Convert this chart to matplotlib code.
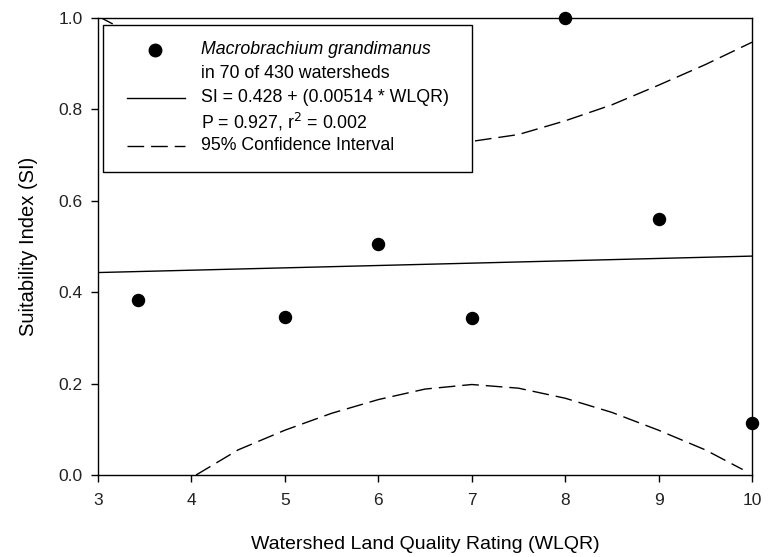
import matplotlib
matplotlib.use("Agg")
import matplotlib.pyplot as plt
from matplotlib.patches import Rectangle
from matplotlib.lines import Line2D

plt.rcParams['font.family'] = ['Liberation Sans', 'DejaVu Sans']

# data
wlqr = [3.43, 5.0, 6.0, 7.0, 8.0, 9.0, 10.0]
si = [0.383, 0.346, 0.505, 0.343, 1.0, 0.56, 0.114]

fit_x = [3.0, 10.0]
fit_y = [0.443, 0.479]

ci_low_x = [4.05, 4.5, 5.0, 5.5, 6.0, 6.5, 7.0, 7.5, 8.0, 8.5, 9.0, 9.5, 9.9]
ci_low_y = [0.0, 0.055, 0.098, 0.135, 0.165, 0.188, 0.198, 0.190, 0.168, 0.137, 0.098, 0.055, 0.012]
ci_up_x = [3.0, 3.5, 4.0, 4.5, 5.0, 5.5, 6.0, 6.5, 7.0, 7.5, 8.0, 8.5, 9.0, 9.5, 10.0]
ci_up_y = [1.004, 0.95, 0.905, 0.85, 0.81, 0.78, 0.755, 0.738, 0.73, 0.745, 0.775, 0.81, 0.853, 0.898, 0.947]

xticks = [3, 4, 5, 6, 7, 8, 9, 10]
yticks = [0.0, 0.2, 0.4, 0.6, 0.8, 1.0]

fig = plt.figure(figsize=(7.68, 5.57), dpi=100)
ax = fig.add_axes([98/768, 1-475/557, 654/768, 457/557])

ax.plot(fit_x, fit_y, color='black', lw=1.0, zorder=2)
ax.plot(ci_low_x, ci_low_y, color='black', lw=1.0, dashes=(12, 5), zorder=2)
ax.plot(ci_up_x, ci_up_y, color='black', lw=1.0, dashes=(12, 5), zorder=2)
ax.scatter(wlqr, si, s=75, color='black', zorder=5, clip_on=False)

ax.set_xlim(3, 10)
ax.set_ylim(0, 1.0)
ax.set_xticks(xticks)
ax.set_yticks(yticks)
ax.set_xticklabels([str(t) for t in xticks])
ax.set_yticklabels([f"{t:.1f}" for t in yticks])
ax.tick_params(direction='out', length=5, width=1, labelsize=12.5, colors='black', labelcolor='#222222')
ax.tick_params(axis='x', pad=8)
ax.tick_params(axis='y', pad=6)
for s in ax.spines.values():
    s.set_linewidth(1.0)

ax.set_xlabel('Watershed Land Quality Rating (WLQR)', fontsize=14, labelpad=20)
ax.set_ylabel('Suitability Index (SI)', fontsize=14.5, labelpad=15)

# manual legend
def ax_x(px):
    return (px - 98) / 654
def ax_y(py):
    return (475 - py) / 457

box = Rectangle((ax_x(103), ax_y(172)), ax_x(472) - ax_x(103), ax_y(25) - ax_y(172),
                transform=ax.transAxes, facecolor='white', edgecolor='black', lw=1.0, zorder=4)
ax.add_patch(box)
ax.add_line(Line2D([ax_x(155)], [ax_y(50)], marker='o', ms=9, color='black', ls='none',
                   transform=ax.transAxes, zorder=6))
ax.add_line(Line2D([ax_x(127), ax_x(185)], [ax_y(98)] * 2, color='black', lw=1.0,
                   transform=ax.transAxes, zorder=6))
ax.add_line(Line2D([ax_x(127), ax_x(185)], [ax_y(146)] * 2, color='black', lw=1.0, dashes=(12, 5),
                   transform=ax.transAxes, zorder=6))
tx = ax_x(201)
fs = 12.8
ax.text(tx, ax_y(50), 'Macrobrachium grandimanus', style='italic', fontsize=fs,
        transform=ax.transAxes, va='center', ha='left', zorder=7)
ax.text(tx, ax_y(73), 'in 70 of 430 watersheds', fontsize=fs,
        transform=ax.transAxes, va='center', ha='left', zorder=7)
ax.text(tx, ax_y(98), 'SI = 0.428 + (0.00514 * WLQR)', fontsize=fs,
        transform=ax.transAxes, va='center', ha='left', zorder=7)
ax.text(tx, ax_y(122), r'P = 0.927, r$^2$ = 0.002', fontsize=fs,
        transform=ax.transAxes, va='center', ha='left', zorder=7)
ax.text(tx, ax_y(146), '95% Confidence Interval', fontsize=fs,
        transform=ax.transAxes, va='center', ha='left', zorder=7)

fig.savefig('out.png', dpi=100)
